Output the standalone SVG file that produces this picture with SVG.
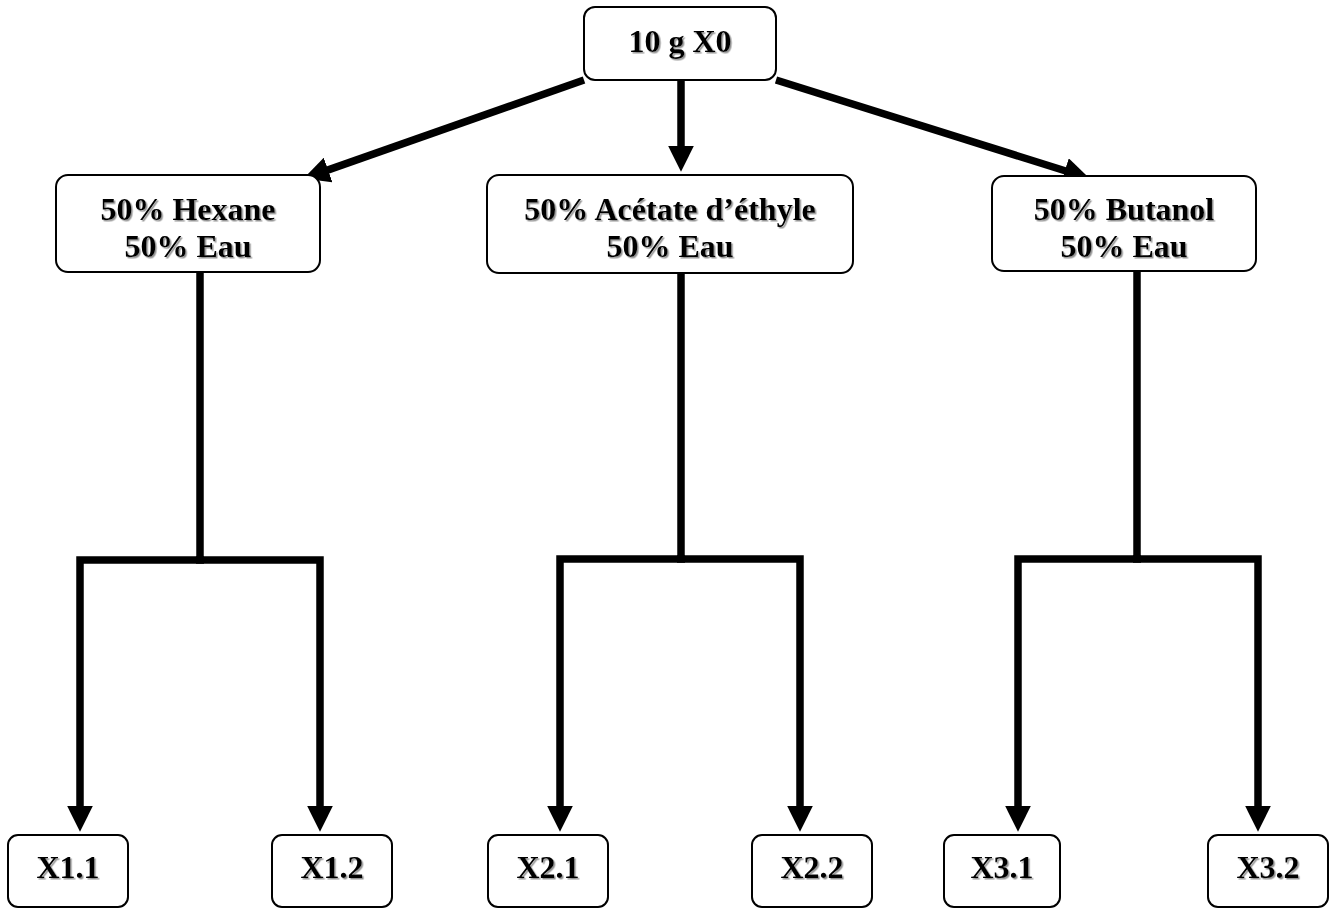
<svg xmlns="http://www.w3.org/2000/svg" width="1334" height="911" viewBox="0 0 1334 911">
<defs>
<style>
.box{fill:#fff;stroke:#000;stroke-width:2}
.t{font-family:"Liberation Serif","Times New Roman",serif;font-weight:bold;font-size:32px;text-anchor:middle;fill:#000;filter:url(#sh)}
.c{fill:none;stroke:#000;stroke-width:7.5;stroke-linecap:butt;stroke-linejoin:miter}
.a{marker-end:url(#ah)}
</style>
<filter id="sh" x="-10%" y="-20%" width="130%" height="150%">
<feDropShadow dx="1.5" dy="1.5" stdDeviation="0.6" flood-color="#777" flood-opacity="0.8"/>
</filter>
<marker id="ah" markerUnits="userSpaceOnUse" markerWidth="26" markerHeight="26" viewBox="0 0 24 24" refX="4" refY="12" orient="auto">
<path d="M0,0 L24,12 L0,24 z" fill="#000"/>
</marker>
</defs>
<g id="connectors">
<line class="c a" x1="584" y1="80" x2="324" y2="171.4"/>
<line class="c a" x1="681" y1="80" x2="681" y2="150"/>
<line class="c a" x1="776" y1="80" x2="1069" y2="172"/>
<path class="c" d="M200,272 L200,560"/>
<path class="c a" d="M204,560 L80,560 L80,810"/>
<path class="c a" d="M196,560 L320,560 L320,810"/>
<path class="c" d="M681,273 L681,559"/>
<path class="c a" d="M685,559 L560,559 L560,810"/>
<path class="c a" d="M677,559 L800,559 L800,810"/>
<path class="c" d="M1137,271 L1137,559"/>
<path class="c a" d="M1141,559 L1018,559 L1018,810"/>
<path class="c a" d="M1133,559 L1258,559 L1258,810"/>
</g>
<g id="n0"><rect class="box" x="584" y="7" width="192" height="73" rx="11"/><text class="t" x="680" y="52">10 g X0</text></g>
<g id="n1"><rect class="box" x="56" y="175" width="264" height="97" rx="12"/><text class="t" x="188" y="220">50% Hexane</text><text class="t" x="188" y="257">50% Eau</text></g>
<g id="n2"><rect class="box" x="487" y="175" width="366" height="98" rx="12"/><text class="t" x="670" y="220">50% Acétate d’éthyle</text><text class="t" x="670" y="257">50% Eau</text></g>
<g id="n3"><rect class="box" x="992" y="176" width="264" height="95" rx="12"/><text class="t" x="1124" y="220">50% Butanol</text><text class="t" x="1124" y="257">50% Eau</text></g>
<g id="x11"><rect class="box" x="8" y="835" width="120" height="72" rx="10"/><text class="t" x="68" y="878">X1.1</text></g>
<g id="x12"><rect class="box" x="272" y="835" width="120" height="72" rx="10"/><text class="t" x="332" y="878">X1.2</text></g>
<g id="x21"><rect class="box" x="488" y="835" width="120" height="72" rx="10"/><text class="t" x="548" y="878">X2.1</text></g>
<g id="x22"><rect class="box" x="752" y="835" width="120" height="72" rx="10"/><text class="t" x="812" y="878">X2.2</text></g>
<g id="x31"><rect class="box" x="944" y="835" width="116" height="72" rx="10"/><text class="t" x="1002" y="878">X3.1</text></g>
<g id="x32"><rect class="box" x="1208" y="835" width="120" height="72" rx="10"/><text class="t" x="1268" y="878">X3.2</text></g>
</svg>
